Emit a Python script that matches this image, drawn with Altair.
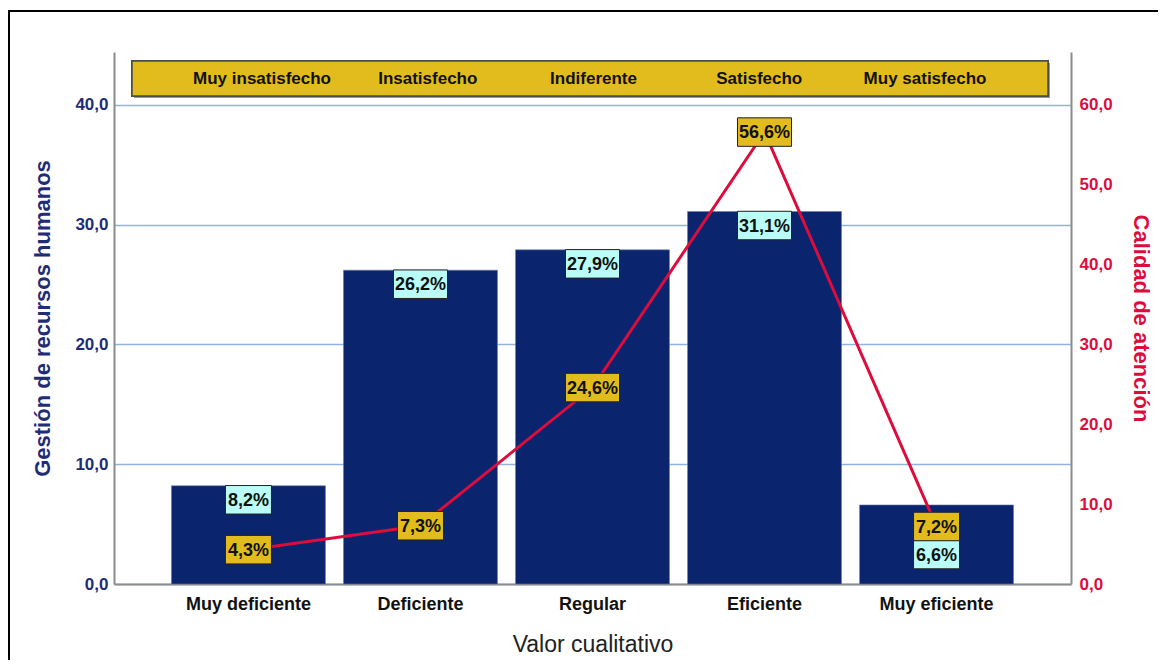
import altair as alt
import pandas as pd

# ---------------- data ----------------
categorias = ["Muy deficiente", "Deficiente", "Regular", "Eficiente", "Muy eficiente"]
gestion = [8.2, 26.2, 27.9, 31.1, 6.6]
calidad = [4.3, 7.3, 24.6, 56.6, 7.2]
escala = ["Muy insatisfecho", "Insatisfecho", "Indiferente", "Satisfecho", "Muy satisfecho"]
ticks_left = [0, 10, 20, 30, 40]
ticks_right = [0, 10, 20, 30, 40, 50, 60]

# ---------------- style ----------------
W, H = 957, 532
YL_MAX, YR_MAX = 44.42, 66.63
NAVY = "#0b246e"
NAVY_TXT = "#1f2d78"
CRIMSON = "#dc0d3d"
YELLOW = "#e1bc1c"
CYAN = "#b9fdf6"
GRID = "#8fb4e3"
DOMAIN = "#8c8c8c"
FONT = "Liberation Sans, Arial, sans-serif"
NARROW = "Liberation Sans Narrow, Arial Narrow, Liberation Sans, sans-serif"


def pct(v):
    return f"{v:.1f}%".replace(".", ",")


def box_path(label):
    hw = (8 * len(label) + 14) / 10.0
    return f"M{-hw},-2.85H{hw}V2.85H{-hw}Z"


df = pd.DataFrame({"cat": categorias, "g": gestion, "c": calidad})
df["gl"] = [pct(v) for v in gestion]
df["cl"] = [pct(v) for v in calidad]
df["gpath"] = [box_path(s) for s in df["gl"]]
df["cpath"] = [box_path(s) for s in df["cl"]]

# offset of bar label boxes below bar top (avoid collision with line labels)
pxL, pxR = H / YL_MAX, H / YR_MAX
offs = []
for g, c in zip(gestion, calidad):
    top = H - g * pxL
    bc = top + 14
    lc = H - c * pxR
    if abs(bc - lc) < 28:
        bc = lc + 28
    offs.append(round(bc - top, 1))
df["off"] = offs

top_df = pd.DataFrame({"lab": escala})

lab_expr = "replace(format(datum.value, '.1f'), '.', ',')"

x_enc = alt.X(
    "cat:N", sort=categorias,
    scale=alt.Scale(paddingInner=0.105, paddingOuter=0.334),
    axis=alt.Axis(
        title="Valor cualitativo", labelAngle=0, labelFont=FONT, labelFontSize=18,
        labelFontWeight="bold", labelColor="#111", labelPadding=11, ticks=False,
        domainColor=DOMAIN, domainWidth=2, titleFont=FONT, titleFontSize=23,
        titleFontWeight="normal", titleColor="#222", titlePadding=20, grid=False,
    ),
)

y_left = alt.Y(
    "g:Q",
    scale=alt.Scale(domain=[0, YL_MAX], nice=False, zero=True),
    axis=alt.Axis(
        orient="left", values=ticks_left, labelExpr=lab_expr, title="Gestión de recursos humanos",
        labelFont=FONT, labelFontSize=17, labelFontWeight="bold", labelColor=NAVY_TXT,
        labelPadding=6, ticks=False, domainColor=DOMAIN, domainWidth=2, grid=True,
        gridColor=GRID, gridWidth=1.5, titleFont=FONT, titleFontSize=22,
        titleFontWeight="bold", titleColor=NAVY_TXT, titlePadding=20,
        labelFlush=False, labelOverlap=False,
    ),
)

y_right = alt.Y(
    "c:Q",
    scale=alt.Scale(domain=[0, YR_MAX], nice=False, zero=True),
    axis=alt.Axis(
        orient="right", values=ticks_right, labelExpr=lab_expr, title="Calidad de atención",
        labelFont=FONT, labelFontSize=17, labelFontWeight="bold", labelColor=CRIMSON,
        labelPadding=8, ticks=False, domainColor=DOMAIN, domainWidth=2, grid=False,
        titleFont=FONT, titleFontSize=22, titleFontWeight="bold", titleColor=CRIMSON,
        titlePadding=16, labelFlush=False, labelOverlap=False,
    ),
)

base = alt.Chart(df)

bars = base.mark_bar(color=NAVY, stroke="#6c7bab", strokeWidth=0.6).encode(x=x_enc, y=y_left)

bar_label_layers = []
for off in sorted(set(offs)):
    sub = base.transform_filter(alt.datum.off == off)
    bar_label_layers.append(
        sub.mark_point(filled=True, fill=CYAN, stroke="#222", strokeWidth=1, size=100,
                       opacity=1, yOffset=off).encode(
            x=x_enc, y=y_left, shape=alt.Shape("gpath:N", scale=None))
    )
    bar_label_layers.append(
        sub.mark_text(font=NARROW, fontSize=18, fontWeight="bold", color="#111",
                      baseline="middle", align="center", yOffset=off + 1).encode(
            x=x_enc, y=y_left, text="gl:N")
    )

left = alt.layer(bars, *bar_label_layers)

line = base.mark_line(color=CRIMSON, strokeWidth=3).encode(x=x_enc, y=y_right)
line_boxes = base.mark_point(filled=True, fill=YELLOW, stroke="#222", strokeWidth=1,
                             size=100, opacity=1).encode(
    x=x_enc, y=y_right, shape=alt.Shape("cpath:N", scale=None))
line_text = base.mark_text(font=NARROW, fontSize=18, fontWeight="bold", color="#111",
                           baseline="middle", align="center", yOffset=1).encode(
    x=x_enc, y=y_right, text="cl:N")
right = alt.layer(line, line_boxes, line_text)

main = alt.layer(left, right).resolve_scale(y="independent")

# top band with the scale of the second variable
band_shadow = alt.Chart(top_df).mark_rect(fill="#9a9a9a", opacity=0.6).encode(
    x=alt.value(20), x2=alt.value(936), y=alt.value(11), y2=alt.value(46))
band = alt.Chart(top_df).mark_rect(fill=YELLOW, stroke="#4d4d4d", strokeWidth=1.5).encode(
    x=alt.value(18), x2=alt.value(934), y=alt.value(9), y2=alt.value(44))
band_text = alt.Chart(top_df).mark_text(font=FONT, fontSize=17, fontWeight="bold",
                                        color="#111", baseline="middle").encode(
    x=alt.X("lab:N", sort=escala, scale=alt.Scale(type="point", range=[148, 811], padding=0),
            axis=None),
    y=alt.value(27), text="lab:N")
top_layer = alt.layer(band_shadow, band, band_text)

frame = alt.Chart(top_df).mark_rect(fillOpacity=0, stroke="#000", strokeWidth=2).encode(
    x=alt.value(-105), x2=alt.value(1100), y=alt.value(-41), y2=alt.value(700))

chart = alt.layer(frame, main, top_layer).resolve_scale(
    x="independent", y="independent"
).properties(
    width=W, height=H,
    padding={"left": 106, "top": 44, "right": 87, "bottom": 76},
    autosize=alt.AutoSizeParams(type="none"),
    background="white",
).configure_view(strokeWidth=0)

chart.save("out.html", embed_options={"renderer": "svg", "actions": False})
